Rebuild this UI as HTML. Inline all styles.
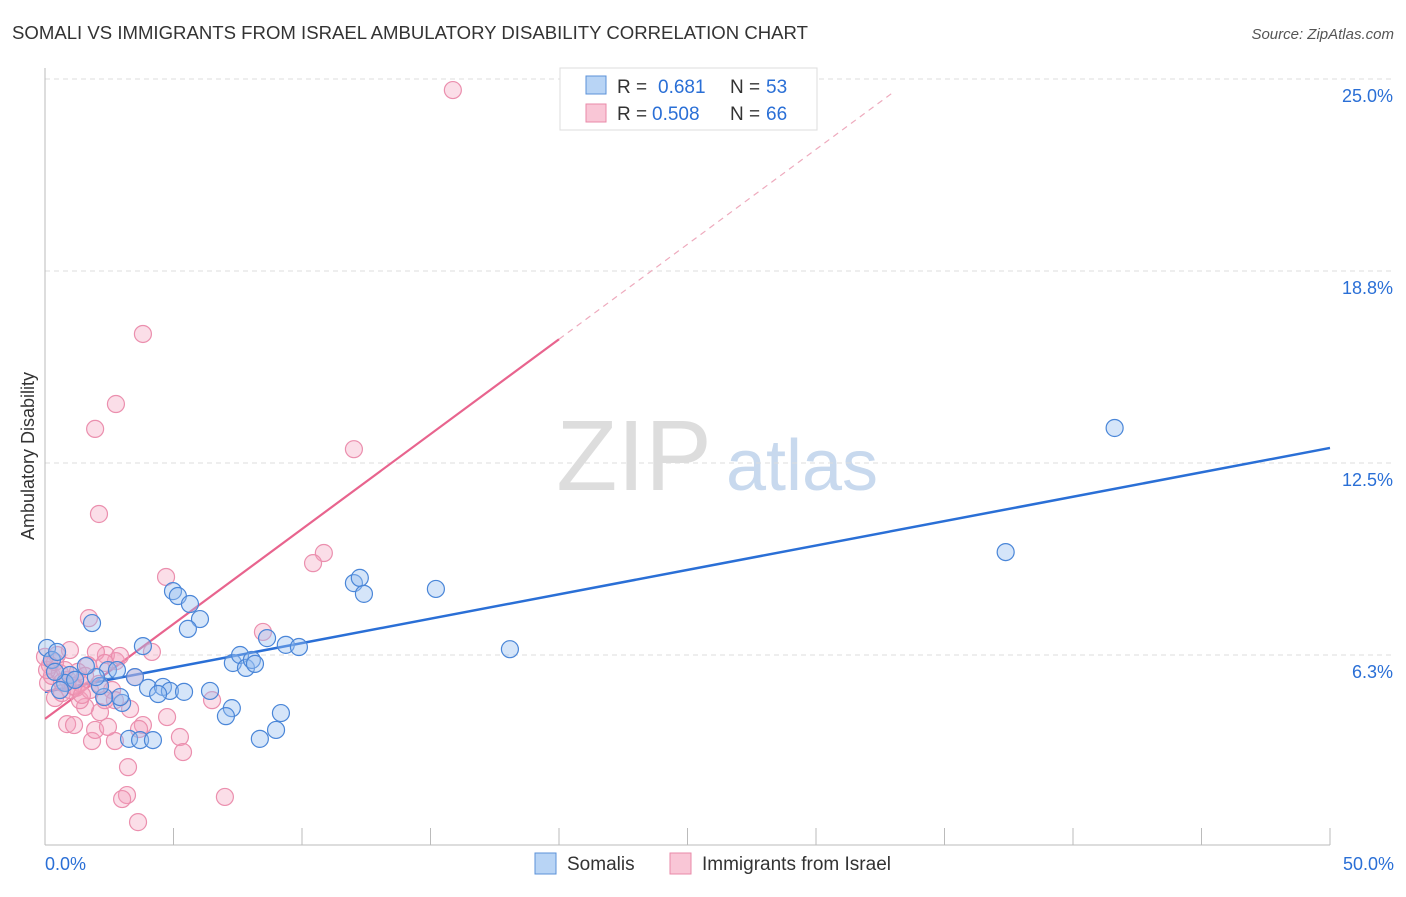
<!DOCTYPE html>
<html><head><meta charset="utf-8"><style>
body{margin:0;background:#fff;font-family:"Liberation Sans",sans-serif}
svg text{font-family:"Liberation Sans",sans-serif}
</style></head><body>
<svg id="chart" width="1406" height="892" viewBox="0 0 1406 892" xmlns="http://www.w3.org/2000/svg">
<text x="12" y="39" font-size="18" fill="#333" textLength="796" lengthAdjust="spacingAndGlyphs">SOMALI VS IMMIGRANTS FROM ISRAEL AMBULATORY DISABILITY CORRELATION CHART</text>
<text x="1394" y="39" font-size="15" fill="#555" font-style="italic" text-anchor="end">Source: ZipAtlas.com</text>
<text x="0" y="0" font-size="18" fill="#333" transform="translate(34,456) rotate(-90)" text-anchor="middle">Ambulatory Disability</text>
<g><text x="634" y="490" font-size="100" fill="#ddd" font-family="Liberation Serif" text-anchor="middle">ZIP</text><text x="802" y="490" font-size="72" fill="#c8d9ee" text-anchor="middle">atlas</text></g>
<g id="grid"></g>
<g id="axes"></g>
<g id="lines"></g>
<g id="pts"></g>
<g>
<rect x="560" y="68" width="257" height="62" fill="#fff" stroke="#ddd"/>
<rect x="586" y="76" width="20" height="18" fill="#b8d4f5" stroke="#5b92d8"/>
<text x="617" y="93" font-size="19" fill="#333">R =</text><text x="658" y="93" font-size="19" fill="#2a6fd6">0.681</text><text x="730" y="93" font-size="19" fill="#333">N =</text><text x="766" y="93" font-size="19" fill="#2a6fd6">53</text>
<rect x="586" y="104" width="20" height="18" fill="#f9c6d6" stroke="#e98aa8"/>
<text x="617" y="120" font-size="19" fill="#333">R =</text><text x="652" y="120" font-size="19" fill="#2a6fd6">0.508</text><text x="730" y="120" font-size="19" fill="#333">N =</text><text x="766" y="120" font-size="19" fill="#2a6fd6">66</text>
</g>
<g>
<rect x="535" y="853" width="21" height="21" fill="#b8d4f5" stroke="#5b92d8"/>
<text x="567" y="870" font-size="19" fill="#333">Somalis</text>
<rect x="670" y="853" width="21" height="21" fill="#f9c6d6" stroke="#e98aa8"/>
<text x="702" y="870" font-size="19" fill="#333">Immigrants from Israel</text>
</g>
</svg>
<script>
const yTicks=[6.25,12.5,18.75,25];
const yTickLabels=["6.3%","12.5%","18.8%","25.0%"];
const xTickLabels=["0.0%","50.0%"];
const somaliX=[0.08,0.27,0.47,1.83,3.81,4.98,5.17,5.64,6.03,5.56,6.42,7.31,7.59,7.82,8.05,8.17,8.64,9.37,9.88,12.02,12.25,12.41,15.21,18.09,37.38,41.62,7.27,7.04,8.36,8.99,9.18,3.27,3.70,4.20,4.01,4.59,4.86,5.41,4.40,3.00,2.92,2.30,2.14,2.45,2.80,1.98,1.59,0.97,0.78,0.58,3.50,1.17,0.39];
const somaliY=[6.48,6.09,6.35,7.29,6.54,8.33,8.17,7.91,7.42,7.10,5.08,5.99,6.25,5.83,6.09,5.96,6.80,6.58,6.51,8.59,8.76,8.24,8.40,6.44,9.60,13.64,4.52,4.26,3.52,3.81,4.36,3.52,3.48,3.48,5.18,5.21,5.08,5.05,4.98,4.69,4.88,4.88,5.24,5.76,5.76,5.53,5.89,5.60,5.34,5.11,5.53,5.44,5.70];
const israelX=[15.87,3.81,2.76,1.95,12.02,2.10,10.85,10.43,4.71,1.71,8.48,4.16,2.76,2.37,1.98,0.97,0.47,0.19,1.67,3.50,6.50,4.75,3.81,3.66,5.25,5.37,3.23,3.19,3.00,7.00,3.62,2.72,1.83,1.95,2.45,0.86,1.13,3.31,2.14,1.56,1.36,0.39,0.66,0.97,1.21,1.75,2.33,0.12,0.27,0.58,0.89,1.36,2.10,2.61,0.08,0.39,0.78,1.28,1.56,2.92,2.33,0.66,1.09,0,1.44,2.72];
const israelY=[24.64,16.70,14.42,13.61,12.95,10.84,9.57,9.24,8.79,7.45,7.00,6.35,6.05,6.25,6.35,6.41,6.25,5.92,5.92,5.53,4.78,4.23,3.97,3.84,3.58,3.09,2.60,1.69,1.56,1.63,0.81,3.45,3.45,3.81,3.91,4.00,3.97,4.49,4.39,4.56,4.78,4.85,5.01,5.11,5.18,5.11,4.78,5.34,5.57,5.66,5.44,5.34,5.31,5.11,5.76,6.02,5.76,5.70,5.57,6.22,5.99,5.37,5.24,6.19,4.95,4.78];
const somaliFit=[5.05,0.1588];
const israelFit=[4.17,0.618];
const NS="http://www.w3.org/2000/svg";
const X=v=>45+v/50*1285, Y=v=>847-v/6.25*192;
function mk(tag,attrs,parent){const e=document.createElementNS(NS,tag);for(const k in attrs)e.setAttribute(k,attrs[k]);parent.appendChild(e);return e;}
const grid=document.getElementById('grid'),axes=document.getElementById('axes');
yTicks.forEach((t,i)=>{
 const g=mk('line',{x1:45,x2:1394,y1:Y(t),y2:Y(t),stroke:'#ddd','stroke-dasharray':'5,4'},grid);
 
 
 const tx=mk('text',{x:1393,y:Y(t)+23,'font-size':18,fill:'#2a6fd6','text-anchor':'end'},axes);
 tx.textContent=yTickLabels[i];
 
 
});
const ya=mk('line',{x1:45,x2:45,y1:68,y2:845,stroke:'#bbb'},axes);


const xa=mk('line',{x1:45,x2:1330,y1:845,y2:845,stroke:'#bbb'},axes);


for(let v=5;v<=50;v+=5){
 const t=mk('line',{x1:X(v),x2:X(v),y1:828,y2:845,stroke:'#bbb'},axes);
 
 
}
[[0,'start',45],[50,'end',1394]].forEach((a,i)=>{
 const t=mk('text',{x:a[2],y:870,'font-size':18,fill:'#2a6fd6','text-anchor':a[1]},axes);
 t.textContent=xTickLabels[i];
 
 
});
const lines=document.getElementById('lines');
const bl=mk('line',{x1:X(0),y1:Y(somaliFit[0]),x2:X(50),y2:Y(somaliFit[0]+50*somaliFit[1]),stroke:'#2a6fd6','stroke-width':2.5},lines);


const pl=mk('line',{x1:X(0),y1:Y(israelFit[0]),x2:X(20),y2:Y(israelFit[0]+20*israelFit[1]),stroke:'#e8648e','stroke-width':2.2},lines);


const xe=(24.6-israelFit[0])/israelFit[1];
const pd=mk('line',{x1:X(20),y1:Y(israelFit[0]+20*israelFit[1]),x2:X(xe),y2:Y(24.6),stroke:'#eeaabd','stroke-width':1.2,'stroke-dasharray':'6,5'},lines);


const pts=document.getElementById('pts');
israelX.forEach((x,i)=>{
 const c=mk('circle',{cx:X(x),cy:Y(israelY[i]),r:8.5,fill:'rgba(244,160,188,0.35)',stroke:'#eb8fae','stroke-width':1.2},pts);
 
 
});
somaliX.forEach((x,i)=>{
 const c=mk('circle',{cx:X(x),cy:Y(somaliY[i]),r:8.5,fill:'rgba(150,190,240,0.4)',stroke:'#4a86d8','stroke-width':1.2},pts);
 
 
});
</script>
</body></html>
